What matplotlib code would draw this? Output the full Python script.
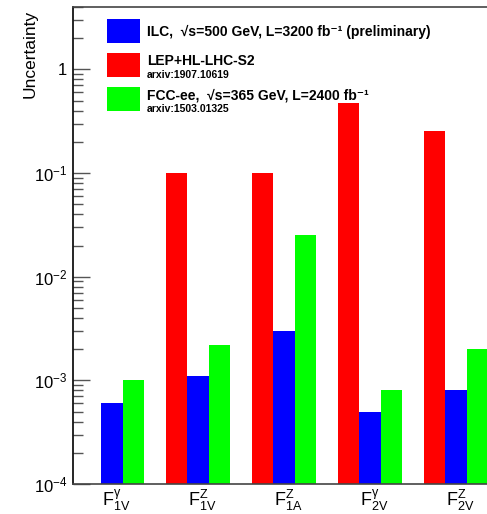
import numpy as np
import matplotlib.pyplot as plt
from matplotlib.patches import Rectangle
from matplotlib.ticker import LogLocator, NullFormatter

plt.rcParams['font.family'] = ['Liberation Sans', 'DejaVu Sans']
plt.rcParams['mathtext.fontset'] = 'custom'
plt.rcParams['mathtext.rm'] = 'Liberation Sans'
plt.rcParams['mathtext.it'] = 'Liberation Sans'
plt.rcParams['mathtext.bf'] = 'Liberation Sans:bold'

# data
labels = [r'$\mathrm{F}^{\gamma}_{1V}$', r'$\mathrm{F}^{Z}_{1V}$', r'$\mathrm{F}^{Z}_{1A}$',
          r'$\mathrm{F}^{\gamma}_{2V}$', r'$\mathrm{F}^{Z}_{2V}$']
lep_hllhc = [np.nan, 0.10, 0.10, 0.47, 0.255]
ilc = [6.0e-4, 1.1e-3, 3.0e-3, 5.0e-4, 8.0e-4]
fccee = [1.0e-3, 2.2e-3, 2.5e-2, 8.0e-4, 2.0e-3]

series = [lep_hllhc, ilc, fccee]
colors = ['#ff0000', '#0000ff', '#00ff00']

fig = plt.figure(figsize=(4.87, 5.14), dpi=100)
ax = fig.add_axes([73 / 487, 30 / 514, 430 / 487, 477 / 514])

x = np.arange(len(labels))
width = 0.25
for j, (vals, c) in enumerate(zip(series, colors)):
    vals = np.array(vals, dtype=float)
    ok = ~np.isnan(vals)
    ax.bar(x[ok] + 0.08 + width * j, vals[ok], width=width,
           align='edge', color=c, linewidth=0)

ax.set_yscale('log')
ax.set_xlim(0, 5)

ax.set_xticks(x + 0.5)
ax.set_xticklabels(labels, fontsize=13)
ax.tick_params(axis='x', length=0, pad=3)

ax.yaxis.set_minor_locator(LogLocator(base=10, subs=np.arange(2, 10), numticks=20))
ax.yaxis.set_minor_formatter(NullFormatter())
ax.set_yticks([1e-4, 1e-3, 1e-2, 1e-1, 1])
ax.set_yticklabels([r'$10^{-4}$', r'$10^{-3}$', r'$10^{-2}$', r'$10^{-1}$', '1'], fontsize=12)
ax.tick_params(axis='y', which='major', direction='in', length=12, width=1, color='#555555', pad=4)
ax.tick_params(axis='y', which='minor', direction='in', length=7, width=1, color='#555555')
ax.set_ylim(1e-4, 4.0)

for s in ['top', 'bottom']:
    ax.spines[s].set_color('#444444')
ax.spines['left'].set_color('black')
for s in ax.spines.values():
    s.set_linewidth(1.2)

ax.set_ylabel('Uncertainty', fontsize=12.5, loc='top')
ax.yaxis.set_label_coords(-0.083, 0.995)

# legend
tf = fig.transFigure
entries = [('#0000ff', 'ILC,  √s=500 GeV, L=3200 fb⁻¹ (preliminary)', None),
           ('#ff0000', 'LEP+HL-LHC-S2', 'arxiv:1907.10619'),
           ('#00ff00', 'FCC-ee,  √s=365 GeV, L=2400 fb⁻¹', 'arxiv:1503.01325')]
box_tops = [19, 53, 87]
for (c, txt, sub), yt in zip(entries, box_tops):
    fig.patches.append(Rectangle((107 / 487, 1 - (yt + 24) / 514), 33 / 487, 24 / 514,
                                 transform=tf, color=c, linewidth=0))
    if sub is None:
        fig.text(147 / 487, 1 - (yt + 13) / 514, txt, transform=tf, fontsize=10,
                 fontweight='bold', va='center', ha='left')
    else:
        fig.text(147 / 487, 1 - (yt + 8) / 514, txt, transform=tf, fontsize=10,
                 fontweight='bold', va='center', ha='left')
        fig.text(147 / 487, 1 - (yt + 21.5) / 514, sub, transform=tf, fontsize=7.5,
                 fontweight='bold', va='center', ha='left')

fig.savefig('out.png', dpi=100)
